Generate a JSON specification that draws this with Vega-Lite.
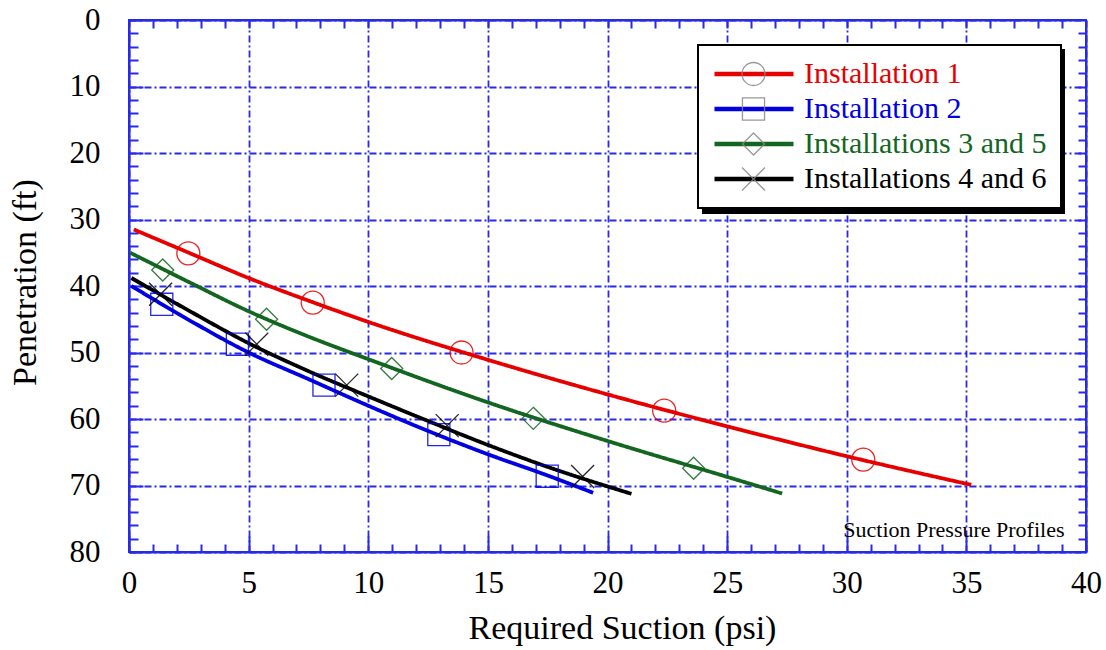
{
  "$schema": "https://vega.github.io/schema/vega-lite/v6.json",
  "width": 957,
  "height": 532,
  "autosize": {"type": "none"},
  "padding": {"left": 129, "top": 20, "right": 20, "bottom": 98},
  "background": "white",
  "config": {
    "view": {"stroke": "#2929e8", "strokeWidth": 2},
    "font": "Liberation Serif",
    "axis": {
      "labelFont": "Liberation Serif",
      "titleFont": "Liberation Serif",
      "labelColor": "black",
      "titleColor": "black",
      "titleFontWeight": "normal",
      "domainColor": "#2929e8",
      "domainWidth": 2,
      "tickColor": "#2929e8",
      "tickWidth": 2,
      "gridColor": "#2929e8",
      "gridDash": [7, 3, 2, 3],
      "gridWidth": 1.8,
      "gridOpacity": 1
    },
    "legend": {"labelFont": "Liberation Serif"},
    "text": {"font": "Liberation Serif"}
  },
  "datasets": {
    "curves": [
      {"series": "Installation 1", "s": 0.2, "p": 31.5},
      {"series": "Installation 1", "s": 2.5, "p": 35.0},
      {"series": "Installation 1", "s": 5, "p": 38.8},
      {"series": "Installation 1", "s": 7.5, "p": 42.2},
      {"series": "Installation 1", "s": 10, "p": 45.4},
      {"series": "Installation 1", "s": 15, "p": 51.1},
      {"series": "Installation 1", "s": 20, "p": 56.3},
      {"series": "Installation 1", "s": 25, "p": 61.1},
      {"series": "Installation 1", "s": 30, "p": 65.6},
      {"series": "Installation 1", "s": 35.2, "p": 69.9},
      {"series": "Installation 2", "s": 0.1, "p": 40.0},
      {"series": "Installation 2", "s": 2.5, "p": 45.1},
      {"series": "Installation 2", "s": 5, "p": 50.0},
      {"series": "Installation 2", "s": 7.5, "p": 54.0},
      {"series": "Installation 2", "s": 10, "p": 58.0},
      {"series": "Installation 2", "s": 12.5, "p": 61.8},
      {"series": "Installation 2", "s": 15, "p": 65.3},
      {"series": "Installation 2", "s": 17.5, "p": 68.5},
      {"series": "Installation 2", "s": 19.4, "p": 71.1},
      {"series": "Installations 3 and 5", "s": 0.05, "p": 35.0},
      {"series": "Installations 3 and 5", "s": 2.5, "p": 39.4},
      {"series": "Installations 3 and 5", "s": 5, "p": 43.8},
      {"series": "Installations 3 and 5", "s": 7.5, "p": 47.6},
      {"series": "Installations 3 and 5", "s": 10, "p": 51.0},
      {"series": "Installations 3 and 5", "s": 15, "p": 57.5},
      {"series": "Installations 3 and 5", "s": 20, "p": 63.3},
      {"series": "Installations 3 and 5", "s": 25, "p": 68.7},
      {"series": "Installations 3 and 5", "s": 27.3, "p": 71.2},
      {"series": "Installations 4 and 6", "s": 0.1, "p": 38.8},
      {"series": "Installations 4 and 6", "s": 2.5, "p": 43.7},
      {"series": "Installations 4 and 6", "s": 5, "p": 48.6},
      {"series": "Installations 4 and 6", "s": 7.5, "p": 52.8},
      {"series": "Installations 4 and 6", "s": 10, "p": 56.6},
      {"series": "Installations 4 and 6", "s": 12.5, "p": 60.3},
      {"series": "Installations 4 and 6", "s": 15, "p": 63.9},
      {"series": "Installations 4 and 6", "s": 17.5, "p": 67.2},
      {"series": "Installations 4 and 6", "s": 21.0, "p": 71.25}
    ],
    "markers": [
      {"series": "Installation 1", "s": 2.48, "p": 35.1},
      {"series": "Installation 1", "s": 7.68, "p": 42.5},
      {"series": "Installation 1", "s": 13.9, "p": 50.0},
      {"series": "Installation 1", "s": 22.37, "p": 58.75},
      {"series": "Installation 1", "s": 30.69, "p": 66.1},
      {"series": "Installation 2", "s": 1.37, "p": 42.75},
      {"series": "Installation 2", "s": 4.53, "p": 48.75},
      {"series": "Installation 2", "s": 8.15, "p": 54.9},
      {"series": "Installation 2", "s": 12.95, "p": 62.35},
      {"series": "Installation 2", "s": 17.48, "p": 68.6},
      {"series": "Installations 3 and 5", "s": 1.41, "p": 37.6},
      {"series": "Installations 3 and 5", "s": 5.75, "p": 45.0},
      {"series": "Installations 3 and 5", "s": 10.98, "p": 52.4},
      {"series": "Installations 3 and 5", "s": 16.9, "p": 59.9},
      {"series": "Installations 3 and 5", "s": 23.6, "p": 67.4},
      {"series": "Installations 4 and 6", "s": 1.32, "p": 41.25},
      {"series": "Installations 4 and 6", "s": 5.34, "p": 48.75},
      {"series": "Installations 4 and 6", "s": 9.1, "p": 54.9},
      {"series": "Installations 4 and 6", "s": 13.3, "p": 61.0},
      {"series": "Installations 4 and 6", "s": 18.96, "p": 68.65}
    ],
    "note": [{"label": "Suction Pressure Profiles"}]
  },
  "layer": [
    {
      "data": {"name": "curves"},
      "mark": {"type": "line", "interpolate": "monotone", "strokeWidth": 3.8},
      "encoding": {
        "x": {
          "field": "s", "type": "quantitative",
          "scale": {"domain": [0, 40], "nice": false, "zero": false},
          "axis": {
            "orient": "bottom",
            "values": [0, 5, 10, 15, 20, 25, 30, 35, 40],
            "grid": true,
            "tickSize": -16,
            "labelPadding": 32,
            "labelFont": "Liberation Serif",
            "labelFontSize": 31,
            "labelOverlap": false,
            "labelFlush": false,
            "title": "Required Suction (psi)",
            "titleFont": "Liberation Serif",
            "titleFontSize": 34,
            "titleX": 493,
            "titleY": 86,
            "titleAlign": "center",
            "titleBaseline": "alphabetic"
          }
        },
        "y": {
          "field": "p", "type": "quantitative",
          "scale": {"domain": [0, 80], "nice": false, "reverse": true, "zero": false},
          "axis": {
            "orient": "left",
            "values": [0, 10, 20, 30, 40, 50, 60, 70, 80],
            "grid": true,
            "tickSize": -14,
            "labelPadding": 43,
            "labelFont": "Liberation Serif",
            "labelFontSize": 31,
            "labelOverlap": false,
            "labelFlush": false,
            "title": "Penetration (ft)",
            "titleFont": "Liberation Serif",
            "titleFontSize": 34,
            "titleX": -94,
            "titleY": 262,
            "titleAngle": -90,
            "titleAlign": "center",
            "titleBaseline": "alphabetic"
          }
        },
        "color": {
          "field": "series", "type": "nominal",
          "scale": {
            "domain": ["Installation 1", "Installation 2", "Installations 3 and 5", "Installations 4 and 6"],
            "range": ["#e60000", "#0000e0", "#13661f", "#000000"]
          },
          "legend": {
            "title": null,
            "orient": "none",
            "legendX": 569,
            "legendY": 25,
            "zindex": 1,
            "fillColor": "white",
            "strokeColor": "black",
            "padding": 14,
            "symbolType": "stroke",
            "symbolSize": 6241,
            "symbolStrokeWidth": 4.5,
            "labelFont": "Liberation Serif",
            "labelFontSize": 30,
            "labelOffset": 8,
            "labelLimit": 500,
            "clipHeight": 30,
            "rowPadding": 5,
            "encode": {
              "legend": {"update": {"strokeWidth": {"value": 2}}},
              "labels": {"update": {"fill": {"scale": "color", "field": "value"}, "font": {"value": "Liberation Serif"}}}
            }
          }
        },
        "strokeDash": {
          "field": "series", "type": "nominal",
          "scale": {"range": [[1, 0], [1, 0], [1, 0], [1, 0]]},
          "legend": {
            "title": null,
            "orient": "none",
            "legendX": 574,
            "legendY": 30,
            "zindex": 0,
            "fillColor": "black",
            "strokeColor": "black",
            "padding": 14,
            "symbolType": "stroke",
            "symbolSize": 108241,
            "symbolStrokeWidth": 0,
            "symbolOpacity": 0,
            "labelOffset": 4,
            "labelExpr": "''",
            "clipHeight": 30,
            "rowPadding": 5,
            "encode": {
              "legend": {"update": {"strokeWidth": {"value": 2}}}
            }
          }
        }
      }
    },
    {
      "data": {"name": "markers"},
      "mark": {"type": "point", "filled": false, "size": 529, "strokeWidth": 1.3, "opacity": 0.85},
      "encoding": {
        "x": {
          "field": "s", "type": "quantitative",
          "axis": {
            "orient": "top",
            "values": [1,2,3,4,5,6,7,8,9,10,11,12,13,14,15,16,17,18,19,20,21,22,23,24,25,26,27,28,29,30,31,32,33,34,35,36,37,38,39],
            "labels": false, "grid": false, "tickSize": -8, "title": null
          }
        },
        "y": {
          "field": "p", "type": "quantitative",
          "axis": {
            "orient": "right",
            "values": [2,4,6,8,10,12,14,16,18,20,22,24,26,28,30,32,34,36,38,40,42,44,46,48,50,52,54,56,58,60,62,64,66,68,70,72,74,76,78],
            "labels": false, "grid": false, "tickSize": -8, "title": null
          }
        },
        "color": {"field": "series", "type": "nominal"},
        "shape": {
          "field": "series", "type": "nominal",
          "scale": {
            "range": [
              "M1,0A1,1,0,1,1,-1,0A1,1,0,1,1,1,0Z",
              "M-0.96,-0.96H0.96V0.96H-0.96Z",
              "M0,-0.96L0.96,0L0,0.96L-0.96,0Z",
              "M-1,-1L1,1M-1,1L1,-1"
            ]
          },
          "legend": {
            "title": null,
            "orient": "none",
            "legendX": 569,
            "legendY": 25,
            "zindex": 2,
            "padding": 14,
            "symbolSize": 529,
            "symbolOffset": 29,
            "symbolStrokeWidth": 1.3,
            "symbolFillColor": "transparent",
            "labelExpr": "''",
            "clipHeight": 30,
            "rowPadding": 5,
            "encode": {
              "symbols": {"update": {"stroke": {"scale": "color", "field": "value"}, "fill": {"value": "transparent"}, "opacity": {"value": 0.85}}}
            }
          }
        }
      }
    },
    {
      "data": {"name": "note"},
      "mark": {"type": "text", "font": "Liberation Serif", "fontSize": 22, "align": "right", "baseline": "alphabetic", "color": "black"},
      "encoding": {
        "text": {"field": "label"},
        "x": {
          "datum": 39.1, "type": "quantitative",
          "axis": {
            "orient": "bottom",
            "values": [1,2,3,4,6,7,8,9,11,12,13,14,16,17,18,19,21,22,23,24,26,27,28,29,31,32,33,34,36,37,38,39],
            "labels": false, "grid": false, "domain": false, "tickSize": -8, "title": null
          }
        },
        "y": {
          "datum": 77.7, "type": "quantitative",
          "axis": {
            "orient": "left",
            "values": [2,4,6,8,12,14,16,18,22,24,26,28,32,34,36,38,42,44,46,48,52,54,56,58,62,64,66,68,72,74,76,78],
            "labels": false, "grid": false, "domain": false, "tickSize": -9, "title": null
          }
        }
      }
    }
  ],
  "resolve": {"axis": {"x": "independent", "y": "independent"}}
}
